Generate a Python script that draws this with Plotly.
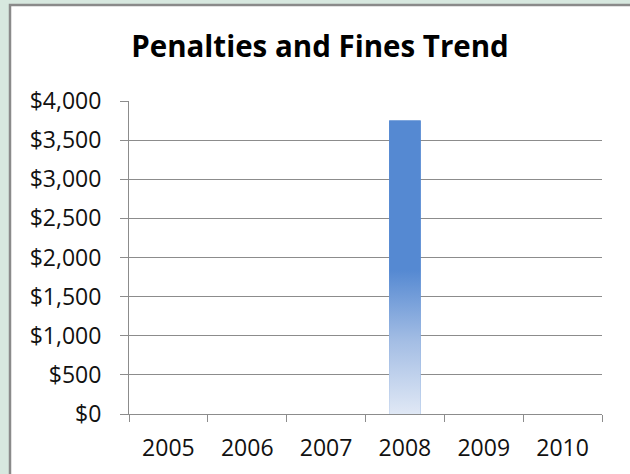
import plotly.graph_objects as go

# penalties and fines per year
years = ["2005", "2006", "2007", "2008", "2009", "2010"]
fines = [0, 0, 0, 3750, 0, 0]

bar_w = 0.4
top_blue = "#5589d2"
font = "Open Sans"

fig = go.Figure()

# base bar (category axis)
fig.add_trace(go.Bar(x=years, y=fines, width=bar_w, marker=dict(color=top_blue, line=dict(width=0)),
                     showlegend=False, hoverinfo="x+y"))

# gradient overlay for each non-zero bar, built from the same values
for i, v in enumerate(fines):
    if v <= 0:
        continue
    xs = [i - bar_w / 2, i + bar_w / 2, i + bar_w / 2, i - bar_w / 2, i - bar_w / 2]
    ys = [0, 0, v, v, 0]
    fig.add_trace(go.Scatter(x=xs, y=ys, xaxis="x2", mode="lines", line=dict(width=0),
                             fill="toself",
                             fillgradient=dict(type="vertical",
                                               colorscale=[[0, "#e0e8f5"], [0.25, "#a3bde4"],
                                                           [0.49, top_blue], [1, top_blue]]),
                             showlegend=False, hoverinfo="skip"))

# margins so plot area sits at x 129..602, y 101..414
L, R, T, B = 129, 28, 101, 60
W, H = 630, 474
pw, ph = W - L - R, H - T - B

fig.update_layout(
    width=W, height=H,
    margin=dict(l=L, r=R, t=T, b=B),
    paper_bgcolor="#d7e8df",
    plot_bgcolor="white",
    title=dict(text="Penalties and Fines Trend", x=320 / W, xanchor="center",
               y=1 - 47 / H, yanchor="middle", yref="container",
               font=dict(family=font, size=29.5, color="black", weight="bold")),
    font=dict(family=font, size=23, color="#111"),
    xaxis=dict(type="category", range=[-0.5, 5.5], tickson="boundaries", ticks="outside",
               ticklen=7, tickcolor="#8c8c8c", showline=True, linecolor="#8c8c8c", linewidth=1,
               showgrid=False, ticklabelstandoff=13),
    xaxis2=dict(overlaying="x", range=[-0.5, 5.5], visible=False),
    yaxis=dict(range=[0, 4000], dtick=500, tickprefix="$", tickformat=",", ticks="outside",
               ticklen=8, tickcolor="#8c8c8c", showline=True, linecolor="#8c8c8c", linewidth=1,
               showgrid=True, gridcolor="#8c8c8c", gridwidth=1, zeroline=False,
               ticklabelstandoff=14),
    shapes=[dict(type="rect", xref="paper", yref="paper", layer="below",
                 x0=(10 - L) / pw, x1=(W + 10 - L) / pw,
                 y0=-0.3, y1=(H - B - 5) / ph,
                 fillcolor="white", line=dict(color="#8a8a8a", width=2.5))],
)

# drop the page's default body margin so the figure fills the window
fig.write_html("out.html", config={"displayModeBar": False},
               post_script="document.body.style.margin='0';")
